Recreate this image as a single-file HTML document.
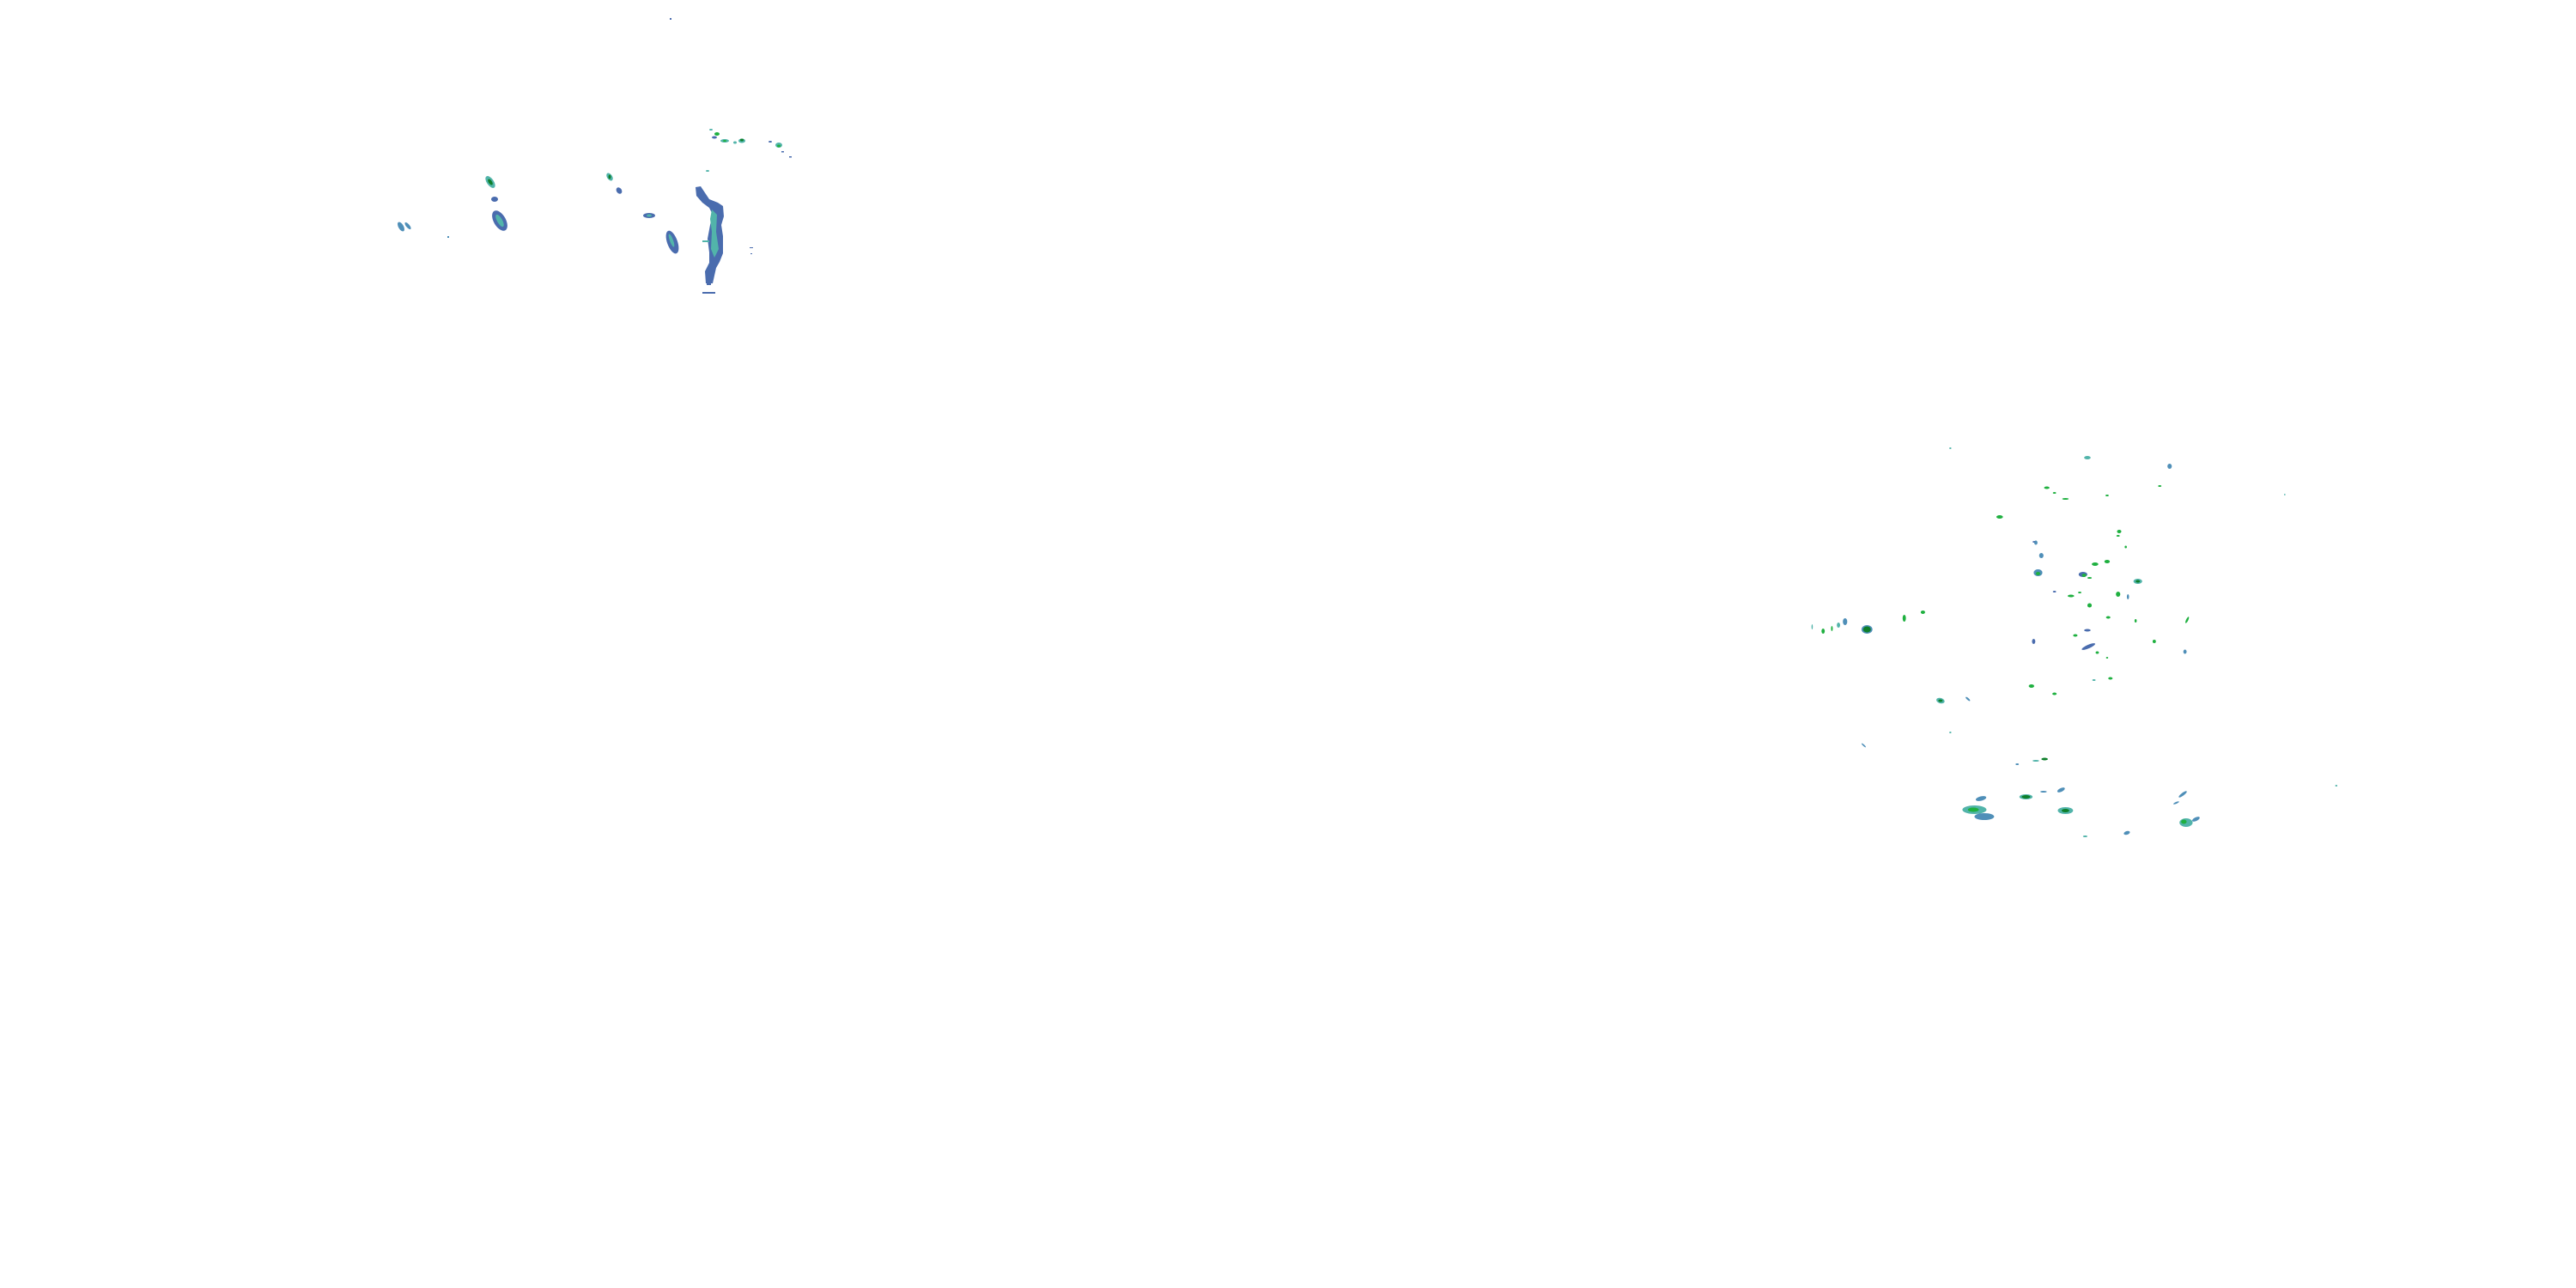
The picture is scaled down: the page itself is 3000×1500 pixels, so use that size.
<!DOCTYPE html>
<html><head><meta charset="utf-8"><style>
html,body{margin:0;padding:0;background:#fff;width:3000px;height:1500px;overflow:hidden}
svg{display:block}
.b{fill:#4a6cae}.t{fill:#52b4aa}.g{fill:#1fb040}.d{fill:#0d7f2a}.m{fill:#4f8fb8}
</style></head><body>
<svg width="3000" height="1500" viewBox="0 0 3000 1500" xmlns="http://www.w3.org/2000/svg">
<!-- left cluster -->
<polygon class="b" points="810,218 816,217 822,226 826,232 836,236 842,240 843,252 840,262 842,275 842,295 838,305 834,312 830,330 822,330 821,316 826,306 826,294 824,278 827,262 830,250 826,242 818,236 811,228"/>
<polygon class="t" points="829,244 835,250 834,270 837,290 832,300 828,290 829,270 827,255"/>
<rect class="t" x="818" y="280" width="8" height="2"/>
<rect class="b" x="818" y="340" width="15" height="2"/>
<rect class="b" x="823" y="330" width="5" height="2"/>
<ellipse class="b" cx="783" cy="282" rx="6" ry="14" transform="rotate(-20 783 282)"/>
<ellipse class="t" cx="782" cy="280" rx="2" ry="8" transform="rotate(-20 782 280)"/>
<ellipse class="b" cx="756" cy="251" rx="7" ry="3"/>
<ellipse class="t" cx="756" cy="251" rx="3" ry="1.5"/>
<ellipse class="t" cx="710" cy="206" rx="3" ry="5" transform="rotate(-35 710 206)"/>
<ellipse class="d" cx="710" cy="206" rx="1.5" ry="2.5"/>
<ellipse class="b" cx="721" cy="222" rx="3" ry="4" transform="rotate(-35 721 222)"/>
<ellipse class="t" cx="571" cy="212" rx="4" ry="8" transform="rotate(-35 571 212)"/>
<ellipse class="d" cx="571" cy="212" rx="2" ry="4" transform="rotate(-35 571 212)"/>
<ellipse class="b" cx="576" cy="232" rx="4" ry="3"/>
<ellipse class="b" cx="582" cy="257" rx="7" ry="13" transform="rotate(-30 582 257)"/>
<ellipse class="t" cx="582" cy="257" rx="3" ry="8" transform="rotate(-30 582 257)"/>
<ellipse class="m" cx="467" cy="264" rx="3" ry="6" transform="rotate(-30 467 264)"/>
<ellipse class="m" cx="475" cy="263" rx="2" ry="5" transform="rotate(-40 475 263)"/>
<rect class="m" x="521" y="275" width="2" height="2"/>
<rect class="b" x="780" y="21" width="2" height="2"/>
<ellipse class="t" cx="828" cy="151" rx="2" ry="1"/>
<ellipse class="g" cx="835" cy="156" rx="3" ry="2"/>
<ellipse class="b" cx="832" cy="160" rx="3" ry="1.5"/>
<ellipse class="t" cx="844" cy="164" rx="5" ry="2"/>
<ellipse class="g" cx="844" cy="164" rx="2" ry="1"/>
<ellipse class="t" cx="864" cy="164" rx="4" ry="2.5"/>
<ellipse class="d" cx="864" cy="163" rx="2" ry="1.5"/>
<ellipse class="t" cx="856" cy="166" rx="2" ry="1.5"/>
<ellipse class="t" cx="907" cy="169" rx="4" ry="3"/>
<ellipse class="g" cx="907" cy="170" rx="2" ry="1.5"/>
<ellipse class="b" cx="897" cy="165" rx="2" ry="1"/>
<rect class="b" x="910" y="176" width="3" height="1.5"/>
<rect class="b" x="919" y="182" width="3" height="1.5"/>
<ellipse class="t" cx="824" cy="199" rx="2" ry="1"/>
<rect class="b" x="873" y="288" width="4" height="1"/>
<rect class="b" x="874" y="295" width="2" height="1"/>
<!-- right cluster -->
<g transform="translate(2090,0) scale(1.277,1) translate(-2090,0)">
<ellipse class="t" cx="2357" cy="533" rx="3" ry="2"/>
<ellipse class="m" cx="2432" cy="543" rx="2" ry="3"/>
<ellipse class="g" cx="2320" cy="568" rx="2.5" ry="1.5"/>
<ellipse class="g" cx="2327" cy="574" rx="1.5" ry="1"/>
<ellipse class="g" cx="2337" cy="581" rx="3" ry="1"/>
<ellipse class="g" cx="2277" cy="602" rx="3" ry="2"/>
<ellipse class="g" cx="2386" cy="619" rx="2" ry="2"/>
<ellipse class="g" cx="2385" cy="624" rx="1.5" ry="1"/>
<ellipse class="g" cx="2423" cy="566" rx="1.5" ry="1"/>
<ellipse class="g" cx="2375" cy="577" rx="1.5" ry="1"/>
<ellipse class="b" cx="2309" cy="631" rx="2" ry="1"/>
<ellipse class="m" cx="2310" cy="632" rx="1.5" ry="2.5"/>
<ellipse class="m" cx="2315" cy="647" rx="2" ry="3"/>
<ellipse class="g" cx="2392" cy="637" rx="1" ry="1.5"/>
<ellipse class="m" cx="2312" cy="667" rx="4" ry="4"/>
<ellipse class="g" cx="2312" cy="668" rx="2" ry="2"/>
<ellipse class="g" cx="2364" cy="657" rx="3" ry="2"/>
<ellipse class="g" cx="2375" cy="654" rx="2.5" ry="2"/>
<ellipse class="b" cx="2353" cy="669" rx="4" ry="3"/>
<ellipse class="g" cx="2354" cy="670" rx="2" ry="2"/>
<ellipse class="g" cx="2359" cy="673" rx="2" ry="1"/>
<ellipse class="t" cx="2403" cy="677" rx="4" ry="3"/>
<ellipse class="d" cx="2403" cy="677" rx="2" ry="1.5"/>
<ellipse class="g" cx="2385" cy="692" rx="2" ry="3"/>
<ellipse class="m" cx="2394" cy="695" rx="1" ry="3"/>
<ellipse class="g" cx="2342" cy="694" rx="3" ry="1.5"/>
<ellipse class="g" cx="2350" cy="690" rx="1.5" ry="1"/>
<ellipse class="b" cx="2327" cy="689" rx="1.5" ry="1"/>
<ellipse class="g" cx="2359" cy="705" rx="2" ry="2.5"/>
<ellipse class="g" cx="2376" cy="719" rx="2" ry="1.5"/>
<ellipse class="g" cx="2401" cy="723" rx="1" ry="2"/>
<ellipse class="g" cx="2448" cy="722" rx="1" ry="4" transform="rotate(20 2448 722)"/>
<ellipse class="b" cx="2357" cy="734" rx="3" ry="1.5"/>
<ellipse class="g" cx="2346" cy="740" rx="2" ry="1.5"/>
<ellipse class="b" cx="2308" cy="747" rx="1.5" ry="3"/>
<ellipse class="b" cx="2358" cy="753" rx="7" ry="2" transform="rotate(-30 2358 753)"/>
<ellipse class="g" cx="2366" cy="760" rx="1.5" ry="1.5"/>
<ellipse class="g" cx="2375" cy="766" rx="1" ry="1"/>
<ellipse class="g" cx="2418" cy="747" rx="1.5" ry="2"/>
<ellipse class="m" cx="2446" cy="759" rx="1.5" ry="2.5"/>
<ellipse class="g" cx="2306" cy="799" rx="2.5" ry="2"/>
<ellipse class="g" cx="2327" cy="808" rx="2" ry="1.5"/>
<ellipse class="g" cx="2378" cy="790" rx="2" ry="1.5"/>
<ellipse class="t" cx="2363" cy="792" rx="1.5" ry="1"/>
<ellipse class="t" cx="2223" cy="816" rx="4" ry="3" transform="rotate(30 2223 816)"/>
<ellipse class="d" cx="2223" cy="816" rx="2" ry="1.5"/>
<ellipse class="m" cx="2248" cy="814" rx="1" ry="3" transform="rotate(-40 2248 814)"/>
<ellipse class="m" cx="2156" cy="733" rx="5" ry="5"/>
<ellipse class="d" cx="2156" cy="733" rx="3.5" ry="3.5"/>
<ellipse class="m" cx="2136" cy="724" rx="2" ry="4"/>
<ellipse class="t" cx="2130" cy="728" rx="1.5" ry="3"/>
<ellipse class="g" cx="2116" cy="735" rx="1.5" ry="3"/>
<ellipse class="g" cx="2124" cy="732" rx="0.8" ry="3"/>
<ellipse class="t" cx="2106" cy="730" rx="0.6" ry="3"/>
<ellipse class="g" cx="2190" cy="720" rx="1.5" ry="4"/>
<ellipse class="g" cx="2207" cy="713" rx="2" ry="2"/>
<ellipse class="d" cx="2318" cy="884" rx="3" ry="1.5"/>
<ellipse class="t" cx="2310" cy="886" rx="3" ry="1"/>
<ellipse class="m" cx="2293" cy="890" rx="1.5" ry="1"/>
<ellipse class="m" cx="2260" cy="930" rx="5" ry="2.5" transform="rotate(-20 2260 930)"/>
<ellipse class="t" cx="2301" cy="928" rx="6" ry="3"/>
<ellipse class="d" cx="2301" cy="928" rx="4" ry="2"/>
<ellipse class="m" cx="2333" cy="920" rx="4" ry="2" transform="rotate(-35 2333 920)"/>
<ellipse class="m" cx="2317" cy="922" rx="3" ry="1"/>
<ellipse class="t" cx="2254" cy="943" rx="11" ry="5"/>
<ellipse class="g" cx="2253" cy="943" rx="5" ry="2.5"/>
<ellipse class="m" cx="2263" cy="951" rx="9" ry="4"/>
<ellipse class="t" cx="2337" cy="944" rx="7" ry="4"/>
<ellipse class="d" cx="2337" cy="944" rx="3.5" ry="2"/>
<ellipse class="m" cx="2444" cy="925" rx="1.5" ry="5" transform="rotate(45 2444 925)"/>
<ellipse class="m" cx="2438" cy="935" rx="1" ry="3" transform="rotate(60 2438 935)"/>
<ellipse class="t" cx="2447" cy="958" rx="6" ry="5"/>
<ellipse class="g" cx="2445" cy="957" rx="2.5" ry="2.5"/>
<ellipse class="m" cx="2456" cy="954" rx="4" ry="2" transform="rotate(-35 2456 954)"/>
<ellipse class="m" cx="2393" cy="970" rx="3" ry="2" transform="rotate(-30 2393 970)"/>
<ellipse class="t" cx="2355" cy="974" rx="2" ry="1"/>
<ellipse class="t" cx="2232" cy="853" rx="1" ry="1"/>
<ellipse class="m" cx="2153" cy="868" rx="0.7" ry="3" transform="rotate(-40 2153 868)"/>
<ellipse class="t" cx="2232" cy="522" rx="1" ry="1"/>
<ellipse class="t" cx="2584" cy="915" rx="1" ry="1"/>
<ellipse class="t" cx="2537" cy="576" rx="0.6" ry="1"/>
</g>
</svg>
</body></html>
